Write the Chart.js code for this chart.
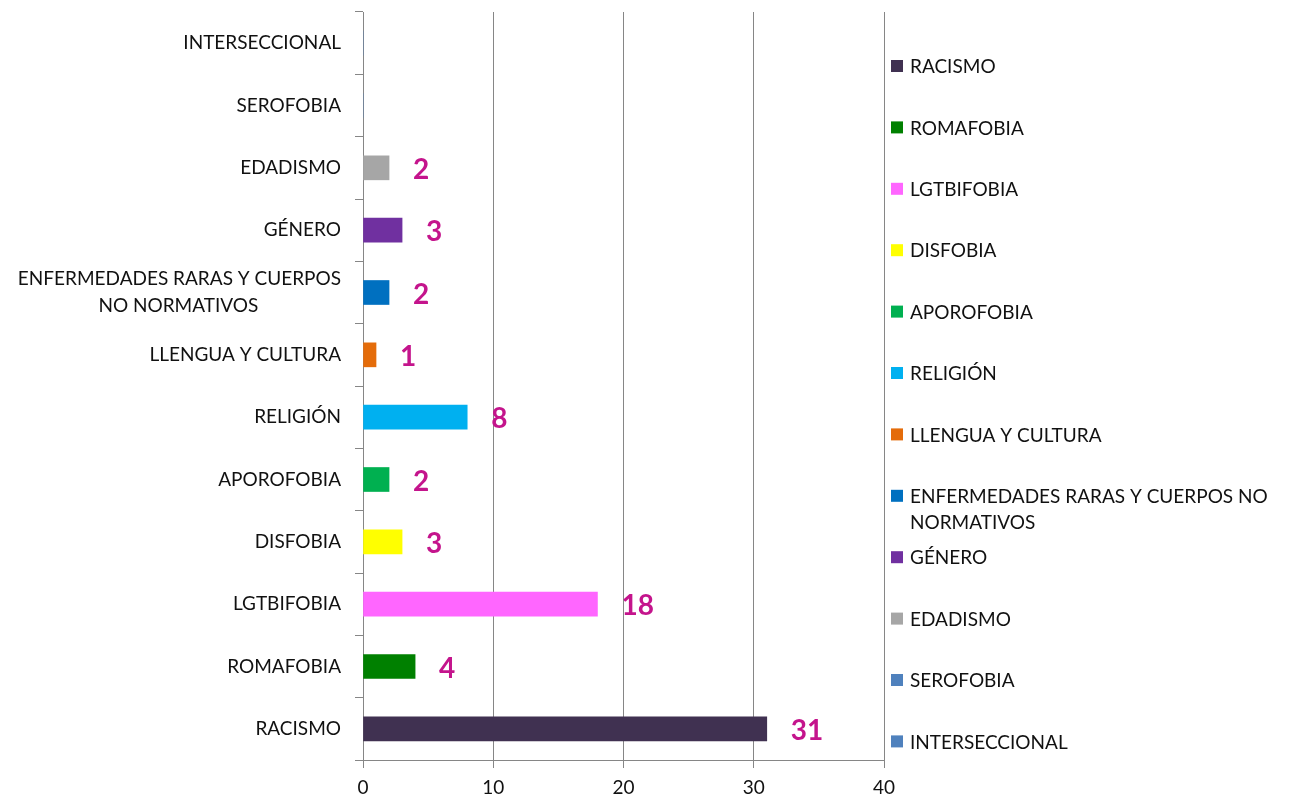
<!DOCTYPE html>
<html><head><meta charset="utf-8">
<script src="https://cdn.jsdelivr.net/npm/chart.js@4.4.1/dist/chart.umd.min.js"></script>
<style>html,body{margin:0;padding:0;background:#fff;overflow:hidden}#wrap{width:1289px;height:800px}</style>
</head><body><div id="wrap"><canvas id="c" width="1289" height="800"></canvas></div>
<script>
// ---- data ----
const categories = ['RACISMO','ROMAFOBIA','LGTBIFOBIA','DISFOBIA','APOROFOBIA','RELIGIÓN','LLENGUA Y CULTURA','ENFERMEDADES RARAS Y CUERPOS NO NORMATIVOS','GÉNERO','EDADISMO','SEROFOBIA','INTERSECCIONAL'];
const axisLabels = ['RACISMO','ROMAFOBIA','LGTBIFOBIA','DISFOBIA','APOROFOBIA','RELIGIÓN','LLENGUA Y CULTURA',['ENFERMEDADES RARAS Y CUERPOS','NO NORMATIVOS'],'GÉNERO','EDADISMO','SEROFOBIA','INTERSECCIONAL'];
const legendLabels = ['RACISMO','ROMAFOBIA','LGTBIFOBIA','DISFOBIA','APOROFOBIA','RELIGIÓN','LLENGUA Y CULTURA',['ENFERMEDADES RARAS Y CUERPOS NO','NORMATIVOS'],'GÉNERO','EDADISMO','SEROFOBIA','INTERSECCIONAL'];
const values = [31,4,18,3,2,8,1,2,3,2,0,0];
const colors = ['#403151','#008000','#FF66FF','#FFFF00','#00B050','#00B0F0','#E46C0A','#0070C0','#7030A0','#A6A6A6','#4F81BD','#4F81BD'];
const xMin = 0, xMax = 40, xStep = 10;

// ---- style ----
const FONT = 'Lato, "Liberation Sans", sans-serif';
const TEXT_COLOR = '#111111';
const GRID = '#868686';
const LABEL_COLOR = '#C4148C';
const FS = 19;

const measureCtx = document.createElement('canvas').getContext('2d');
measureCtx.font = FS + 'px ' + FONT;
function centerLines(lines){
  const widths = lines.map(l => measureCtx.measureText(l).width);
  const maxW = Math.max(...widths);
  const sp = measureCtx.measureText(' ').width || 4;
  return lines.map((l,i) => l + ' '.repeat(Math.round((maxW - widths[i]) / 2 / sp)));
}

const valueLabels = {
  id: 'valueLabels',
  afterDatasetsDraw(chart){
    const ctx = chart.ctx;
    const meta = chart.getDatasetMeta(0);
    ctx.save();
    ctx.font = 'bold 28px ' + FONT;
    ctx.fillStyle = LABEL_COLOR;
    ctx.textAlign = 'left';
    ctx.textBaseline = 'middle';
    meta.data.forEach((bar, i) => {
      const v = chart.data.datasets[0].data[i];
      if (!v) return;
      ctx.fillText(String(v), bar.x + 24, bar.y + 2);
    });
    ctx.restore();
  }
};

const sideLegend = {
  id: 'sideLegend',
  afterDraw(chart){
    const ctx = chart.ctx;
    ctx.save();
    ctx.font = FS + 'px ' + FONT;
    ctx.textBaseline = 'middle';
    ctx.textAlign = 'left';
    const x0 = 891, y0 = 66, step = 61.4, box = 12, lh = 26;
    legendLabels.forEach((lab, i) => {
      const y = y0 + i * step;
      ctx.fillStyle = colors[i];
      ctx.fillRect(x0, y - box/2, box, box);
      ctx.fillStyle = TEXT_COLOR;
      const lines = Array.isArray(lab) ? lab : [lab];
      lines.forEach((l, j) => ctx.fillText(l, x0 + 19, y + j * lh + 1));
    });
    ctx.restore();
  }
};

new Chart(document.getElementById('c'), {
  type: 'bar',
  data: {
    labels: categories,
    datasets: [{
      data: values,
      backgroundColor: colors,
      borderWidth: 0,
      barThickness: 24
    }]
  },
  options: {
    indexAxis: 'y',
    responsive: false,
    animation: false,
    layout: { padding: { left: 0, top: 12, right: 405, bottom: 0 } },
    plugins: { legend: { display: false }, tooltip: { enabled: false } },
    scales: {
      y: {
        reverse: true,
        afterFit(scale){ scale.width = 363; scale.paddingTop = 0; scale.paddingBottom = 0; },
        grid: { drawOnChartArea: false, drawTicks: true, tickLength: 8, color: GRID, offset: true },
        border: { display: true, color: GRID, width: 1 },
        ticks: {
          padding: 14,
          color: TEXT_COLOR,
          font: { family: FONT, size: FS, lineHeight: 1.45 },
          autoSkip: false,
          callback(val, idx){
            const l = axisLabels[val];
            return Array.isArray(l) ? centerLines(l) : l;
          }
        }
      },
      x: {
        min: xMin, max: xMax,
        afterFit(scale){ scale.height = 40; scale.paddingLeft = 0; scale.paddingRight = 0; },
        grid: { drawOnChartArea: true, drawTicks: true, tickLength: 8, color: GRID },
        border: { display: true, color: GRID, width: 1 },
        ticks: {
          stepSize: xStep,
          padding: 8,
          color: TEXT_COLOR,
          font: { family: FONT, size: FS }
        }
      }
    }
  },
  plugins: [valueLabels, sideLegend]
});
</script></body></html>
